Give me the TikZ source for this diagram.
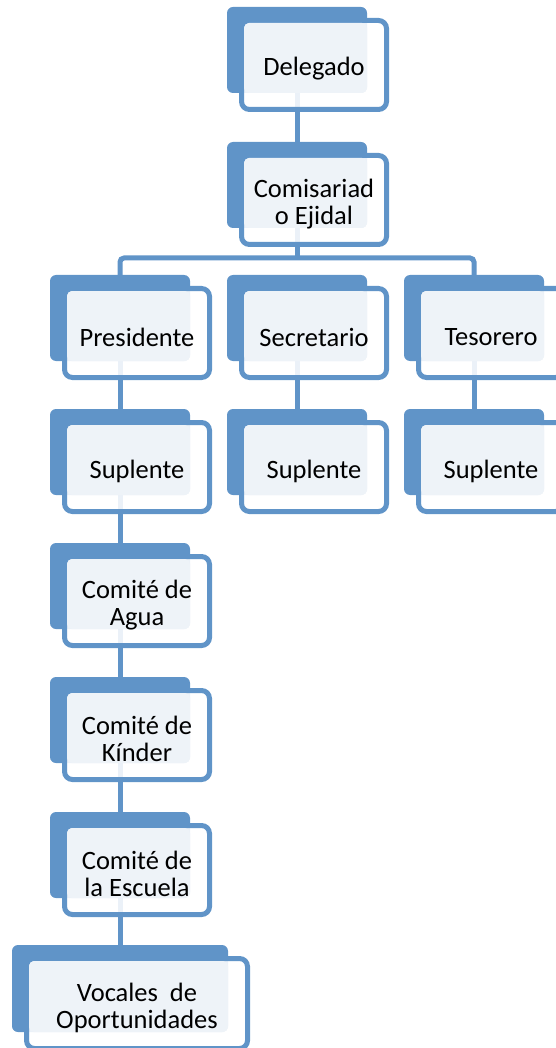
\documentclass[tikz,border=0pt]{standalone}
\usepackage{fontspec}
\setmainfont{Carlito}
\usetikzlibrary{backgrounds}
\definecolor{orgblue}{RGB}{96,148,200}
\definecolor{orgpale}{RGB}{238,243,248}
\tikzset{
  backbox/.style={fill=orgblue, rounded corners=6pt, inner sep=0pt, draw=none},
  frontbox/.style={fill=white, fill opacity=0.88, draw=orgblue, draw opacity=1, line width=5pt, rounded corners=8pt, inner sep=0pt},
  palebox/.style={fill=orgpale, rounded corners=5pt, inner sep=0pt, draw=none},
  lbl/.style={align=center, inner sep=0pt, font=\fontsize{26.5}{27}\selectfont, text=black, yshift=-4pt},
  conn/.style={draw=orgblue, line width=5pt}
}
% #1 name, #2 x, #3 y, #4 width, #5 height, #6 text
\newcommand{\orgbox}[6]{%
  \node[backbox, minimum width={(#4)*1pt}, minimum height={(#5)*1pt}] (#1b) at ({#2+#4/2},{#3+#5/2}) {};
  \node[frontbox, minimum width={(#4+5)*1pt}, minimum height={(#5+3)*1pt}] (#1f) at ({#2+#4/2+17},{#3+#5/2+15}) {};
  \node[palebox, minimum width={(#4-17)*1pt}, minimum height={(#5-16)*1pt}] (#1p) at ({#2+(#4+17)/2},{#3+(#5+16)/2}) {};
  \node[lbl] (#1t) at (#1f.center) {#6};
}
\begin{document}
\begin{tikzpicture}[x=1pt,y=-1pt]
\useasboundingbox (0,0) rectangle (556,1048);
\clip (0,0) rectangle (556,1048);
\coordinate (bar) at (0,258);
\orgbox{del}{227}{7}{140}{86}{Delegado}
\orgbox{com}{227}{142}{140}{86}{Comisariad\\o Ejidal}
\orgbox{pres}{50}{275}{140}{86}{Presidente}
\orgbox{sec}{227}{275}{140}{86}{Secretario}
\orgbox{tes}{404}{275}{140}{86}{Tesorero}
\orgbox{supa}{50}{409}{140}{86}{Suplente}
\orgbox{supb}{227}{409}{140}{86}{Suplente}
\orgbox{supc}{404}{409}{140}{86}{Suplente}
\orgbox{agua}{50}{543}{140}{86}{Comité de\\Agua}
\orgbox{kin}{50}{677}{140}{86}{Comité de\\Kínder}
\orgbox{esc}{50}{812}{140}{86}{Comité de\\la Escuela}
\orgbox{voc}{12}{945}{216}{87}{Vocales\ \ de\\Oportunidades}
\begin{pgfonlayer}{background}
\draw[conn] (delb.center) -- (comb.center);
\draw[conn] (comb.center) -- (comb.center |- bar);
\draw[conn, rounded corners=4pt] (presb.center) -- (presb.center |- bar) -| (tesb.center);
\draw[conn] (secb.center) -- (supbb.center);
\draw[conn] (presb.center) -- (supab.center) -- (aguab.center) -- (kinb.center) -- (escb.center) -- (vocb.center);
\draw[conn] (tesb.center) -- (supcb.center);
\end{pgfonlayer}
\end{tikzpicture}
\end{document}
